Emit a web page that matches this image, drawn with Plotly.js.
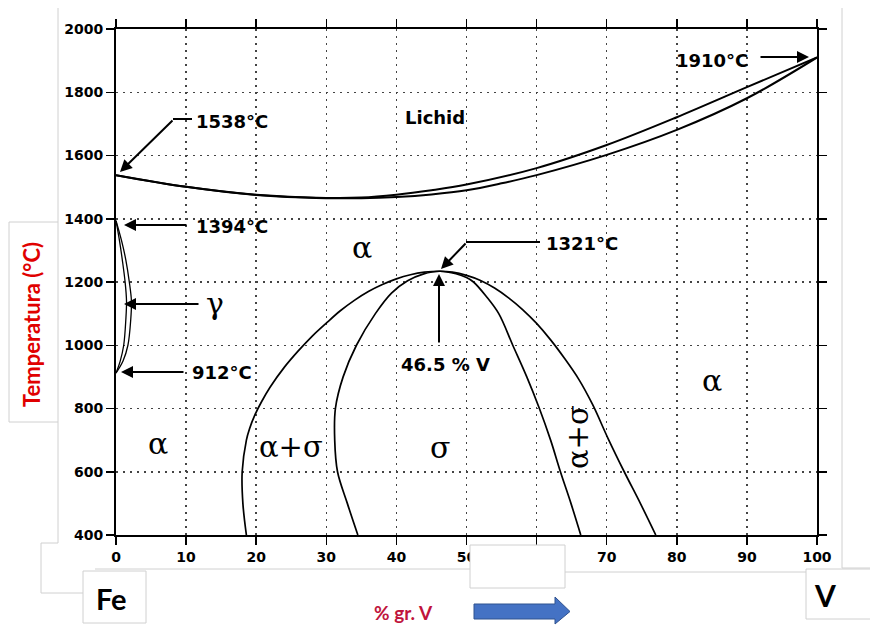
<!DOCTYPE html>
<html><head><meta charset="utf-8">
<script src="https://cdn.plot.ly/plotly-3.0.1.min.js"></script>
<style>html,body{margin:0;padding:0;background:#fff}#c{width:870px;height:625px}</style>
</head><body><div id="c"></div>
<script>
// ---- data ----
const liqV = [0,10,20,30,35,40,45,50,60,70,80,90,100];
const liqT = [1538,1501,1476,1466,1467,1476,1490,1508,1560,1633,1721,1816,1910];
const solV = [0,10,20,30,35,40,45,50,55,60,70,80,90,100];
const solT = [1538,1501,1475,1465,1465,1469,1477,1490,1512,1538,1602,1681,1781,1910];
const gOutV = [0,0.8,1.4,1.9,2.2,2.1,1.7,1.0,0];
const gOutT = [1394,1330,1270,1200,1140,1080,1000,950,912];
const gInV  = [0,0.5,0.9,1.3,1.5,1.4,1.1,0.6,0];
const gInT  = [1394,1330,1270,1200,1140,1080,1000,950,912];
const sigOutV = [18.6,18.1,18.0,18.6,19.05,19.8,20.8,22,24,26,28,30,32,34,36,38,40,42,44,46.2,48,50,52,54,56,58,60,62,64,66,68,70.2,72.5,74.8,77];
const sigOutT = [400,500,600,700,736,779,823,868,930,982,1029,1070,1109,1142,1170,1192,1210,1223,1231,1234,1231,1221,1205,1181,1150,1113,1069,1017,958,893,812,705,600,500,400];
const sigInV = [34.5,33,31.6,31.2,31.3,32.4,34.3,37,39.3,41.6,43.8,46.2,48.5,50,51,52.8,54.6,56.6,58.6,60.4,62,63.4,64.9,66.3];
const sigInT = [400,500,600,700,800,900,1000,1100,1165,1204,1225,1234,1226,1214,1200,1155,1100,1000,900,800,700,600,500,400];
const xTicks = [0,10,20,30,40,50,60,70,80,90,100];
const yTicks = [400,600,800,1000,1200,1400,1600,1800,2000];

// ---- geometry helpers (pixel -> data / paper) ----
const L=116, R=817, T=29, B=535;
const X = px => (px-L)*100/(R-L);
const Y = py => 400 + (B-py)*1600/(B-T);
const PX = px => (px-L)/(R-L);
const PY = py => (B-py)/(B-T);

const ln = (x,y,w)=>({x:x,y:y,mode:'lines',type:'scatter',hoverinfo:'skip',
  line:{color:'#000',width:w||1.6,shape:'spline',smoothing:1},showlegend:false});
const traces = [ln(liqV,liqT,2),ln(solV,solT,2),ln(gOutV,gOutT,1.3),ln(gInV,gInT,1.3),
  ln(sigOutV,sigOutT,1.7),ln(sigInV,sigInT,1.7)];

const bold = {family:'DejaVu Sans',size:18,color:'#000',weight:'bold'};
const greek = s=>({family:'DejaVu Serif',size:s,color:'#000'});
const txt = (px,py,text,font,extra)=>Object.assign({x:X(px),y:Y(py),xref:'x',yref:'y',text:text,
  showarrow:false,font:font,xanchor:'center',yanchor:'middle'},extra||{});
const arr = (hx,hy,tx,ty)=>({x:X(hx),y:Y(hy),ax:X(tx),ay:Y(ty),axref:'x',ayref:'y',xref:'x',yref:'y',
  text:'',showarrow:true,arrowhead:2,arrowsize:1.2,arrowwidth:2,arrowcolor:'#000',standoff:0,startstandoff:0});
const ptxt = (px,py,text,font,extra)=>Object.assign({x:PX(px),y:PY(py),xref:'paper',yref:'paper',text:text,
  showarrow:false,font:font,xanchor:'center',yanchor:'middle'},extra||{});

const annotations = [
  txt(435,117,'Lichid',bold),
  txt(362,247,'α',greek(30)),
  txt(158,443,'α',greek(30)),
  txt(291,447,'α+σ',greek(29)),
  txt(440,447,'σ',greek(30)),
  txt(578,437,'α+σ',greek(29),{textangle:-90}),
  txt(712,380,'α',greek(30)),
  txt(215,303,'γ',greek(30)),
  txt(194,121,'1538°C',bold,{xanchor:'left'}),
  txt(194,226,'1394°C',bold,{xanchor:'left'}),
  txt(190,372,'912°C',bold,{xanchor:'left'}),
  txt(544,243,'1321°C',bold,{xanchor:'left'}),
  txt(445,364,'46.5 % V',bold),
  txt(750,60,'1910°C',bold,{xanchor:'right'}),
  arr(120,172,174,119),
  arr(124,225,188,225),
  arr(124,304,200,304),
  arr(121,372,185,372),
  arr(441,269,467,242),
  arr(439,274,439,344),
  arr(809,57,759,57),
  ptxt(31,325,'Temperatura (°C)',{family:'Lato',size:22,color:'#e00000',weight:'bold'},{textangle:-90}),
  ptxt(111,598,'Fe',{family:'Lato',size:29,color:'#000',weight:'bold'}),
  ptxt(825,595,'V',{family:'Lato',size:30,color:'#000',weight:'bold'}),
  ptxt(403,612,'% gr. V',{family:'Lato',size:19,color:'#c0143c',weight:'bold'})
];

const gray = {color:'#d0d0d0',width:1};
const pl = (x0,y0,x1,y1)=>({type:'line',xref:'paper',yref:'paper',x0:PX(x0),y0:PY(y0),x1:PX(x1),y1:PY(y1),line:gray,layer:'below'});
const shapes = [
  {type:'line',xref:'x',yref:'y',x0:X(173),y0:Y(119),x1:X(192),y1:Y(119),line:{color:'#000',width:2}},
  {type:'line',xref:'x',yref:'y',x0:X(466),y0:Y(242),x1:X(540),y1:Y(242),line:{color:'#000',width:2}},
  pl(58,8,58,222), pl(58,422,58,543), pl(41,543,58,543), pl(41,543,41,593), pl(41,593,83,593),
  pl(95,569,470,569), pl(565,572,806,572), pl(842,8,842,568), pl(842,568,870,568),
  {type:'rect',xref:'paper',yref:'paper',x0:PX(9),y0:PY(222),x1:PX(58),y1:PY(422),line:gray,fillcolor:'#fff',layer:'below'},
  {type:'rect',xref:'paper',yref:'paper',x0:PX(83),y0:PY(571),x1:PX(146),y1:PY(623),line:gray,fillcolor:'#fff',layer:'below'},
  {type:'rect',xref:'paper',yref:'paper',x0:PX(806),y0:PY(569),x1:PX(875),y1:PY(619),line:gray,fillcolor:'#fff',layer:'below'},
  {type:'rect',xref:'paper',yref:'paper',x0:PX(470),y0:PY(545),x1:PX(565),y1:PY(588),line:gray,fillcolor:'#fff',layer:'above'},
  {type:'path',xref:'paper',yref:'paper',
   path:`M${PX(474)},${PY(604)} L${PX(555)},${PY(604)} L${PX(555)},${PY(597)} L${PX(570)},${PY(611.5)} L${PX(555)},${PY(624)} L${PX(555)},${PY(619)} L${PX(474)},${PY(619)} Z`,
   fillcolor:'#4472c4',line:{color:'#2f528f',width:1}}
];

const axisCommon = {showline:true,linecolor:'#000',linewidth:2,mirror:'ticks',ticks:'outside',ticklen:8,
  tickwidth:1.5,tickcolor:'#000',showgrid:true,gridcolor:'#444',gridwidth:1.5,griddash:'2px,5px',zeroline:false,
  tickfont:{family:'DejaVu Sans',size:14,color:'#000',weight:'bold'},fixedrange:true};

const layout = {width:870,height:625,margin:{l:L,r:870-R,t:T,b:625-B},
  paper_bgcolor:'#fff',plot_bgcolor:'#fff',showlegend:false,
  xaxis:Object.assign({},axisCommon,{range:[0,100],tickvals:xTicks,ticktext:xTicks.map(String)}),
  yaxis:Object.assign({},axisCommon,{range:[400,2000],tickvals:yTicks,ticktext:yTicks.map(String)}),
  annotations:annotations,shapes:shapes};

Plotly.newPlot('c',traces,layout,{displayModeBar:false,staticPlot:true});
</script></body></html>
